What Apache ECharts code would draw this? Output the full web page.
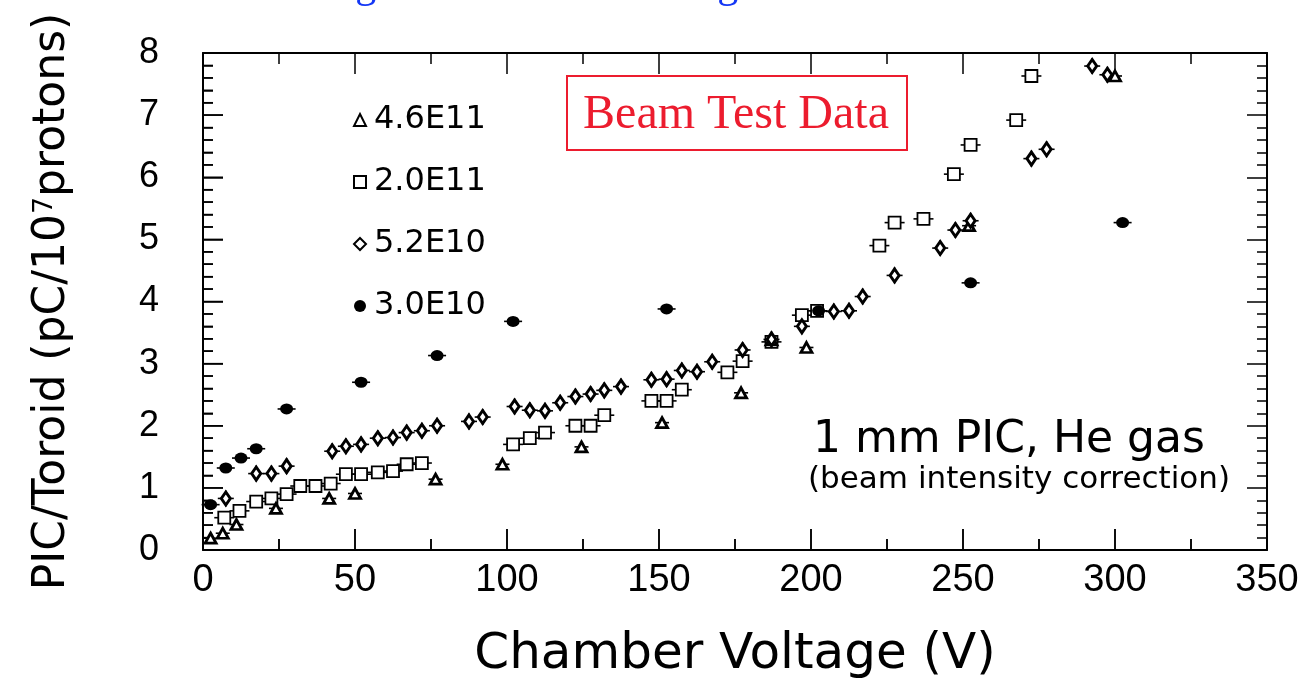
<!DOCTYPE html>
<html>
<head>
<meta charset="utf-8">
<title>PIC/Toroid vs Chamber Voltage</title>
<script src="https://cdn.jsdelivr.net/npm/echarts@6/dist/echarts.min.js"></script>
<style>
  html, body { margin: 0; padding: 0; background: #fff; }
  #chart { width: 1306px; height: 685px; }
</style>
</head>
<body>
<div id="chart"></div>
<script>
// Beam intensities (legend labels)
const seriesNames = ['4.6E11', '2.0E11', '5.2E10', '3.0E10'];

// 4.6E11 protons
const volt46 = [2.5, 6.5, 11, 24, 41.5, 50, 76.5, 98.5, 124.5, 151, 177, 187, 198.5, 252, 300];
const ratio46 = [0.19, 0.27, 0.41, 0.67, 0.83, 0.91, 1.14, 1.38, 1.66, 2.05, 2.53, 3.38, 3.26, 5.22, 7.63];

// 2.0E11 protons
const volt20 = [7, 12, 17.5, 22.5, 27.5, 32, 37, 42, 47, 52, 57.5, 62.5, 67, 72, 102, 107.5, 112.5, 122.5, 127.5, 132,
  147.5, 152.5, 157.5, 172.5, 177.5, 187, 197, 202, 222.5, 227.5, 237, 247, 252.5, 267.5, 272.5];
const ratio20 = [0.52, 0.63, 0.78, 0.83, 0.90, 1.03, 1.03, 1.07, 1.22, 1.22, 1.25, 1.27, 1.38, 1.40, 1.70, 1.80, 1.89, 2.00, 2.00, 2.17,
  2.40, 2.40, 2.58, 2.86, 3.04, 3.35, 3.78, 3.85, 4.90, 5.27, 5.33, 6.05, 6.52, 6.92, 7.63];

// 5.2E10 protons
const volt52 = [7.5, 17.5, 22.5, 27.5, 42.5, 47, 52, 57.5, 62.5, 67, 72, 77, 87.5, 92, 102.5, 107.5, 112.5, 117.5, 122.5, 127.5,
  132, 137.5, 147.5, 152.5, 157.5, 162.5, 167.5, 177.5, 187, 197, 207.5, 212.5, 217, 227.5, 242.5, 247.5, 252.5, 272.5, 277.5, 292.5, 297.5];
const ratio52 = [0.83, 1.23, 1.23, 1.35, 1.59, 1.67, 1.70, 1.80, 1.81, 1.89, 1.92, 2.00, 2.07, 2.14, 2.31, 2.25, 2.24, 2.37, 2.47, 2.51,
  2.57, 2.63, 2.74, 2.75, 2.89, 2.87, 3.03, 3.22, 3.39, 3.60, 3.84, 3.85, 4.08, 4.42, 4.86, 5.15, 5.30, 6.30, 6.45, 7.79, 7.65];

// 3.0E10 protons
const volt30 = [2.5, 7.5, 12.5, 17.5, 27.5, 52, 77, 102, 152.5, 202.5, 252.5, 302.5];
const ratio30 = [0.73, 1.32, 1.48, 1.63, 2.27, 2.70, 3.13, 3.68, 3.88, 3.85, 4.30, 5.27];

// Axis ticks
const xTicks = { min: 0, max: 350, step: 50, minorSplit: 2 };
const yTicks = { min: 0, max: 8, step: 1, minorSplit: 5 };

const pairs = (xs, ys) => xs.map((x, i) => [x, ys[i]]);

const FONT = "'Liberation Sans', sans-serif";
const WIDE_FONT = "'DejaVu Sans', sans-serif";

// Small error-bar style whiskers drawn around each point
function whiskers(name, data, hx, hy, z) {
  return {
    type: 'custom',
    name: name + '-bars',
    data: data,
    z: z,
    silent: true,
    renderItem: function (params, api) {
      const p = api.coord([api.value(0), api.value(1)]);
      const children = [{
        type: 'line',
        shape: { x1: p[0] - hx, y1: p[1], x2: p[0] + hx, y2: p[1] },
        style: { stroke: '#000', lineWidth: 1.6 }
      }];
      if (hy > 0) {
        children.push({
          type: 'line',
          shape: { x1: p[0], y1: p[1] - hy, x2: p[0], y2: p[1] + hy },
          style: { stroke: '#000', lineWidth: 1.6 }
        });
      }
      return { type: 'group', children: children };
    }
  };
}

// Tick positions along the bottom and left frame edges: [value, edge(0=bottom,1=left), major(1)/minor(0)]
function frameTickList(t, edge) {
  const list = [];
  const n = Math.round((t.max - t.min) / t.step) * t.minorSplit;
  for (let i = 0; i <= n; i++) {
    const v = t.min + (i * t.step) / t.minorSplit;
    list.push([v, edge, i % t.minorSplit === 0 ? 1 : 0]);
  }
  return list;
}
const bottomLeftTicks = frameTickList(xTicks, 0).concat(frameTickList(yTicks, 1));

const d46 = pairs(volt46, ratio46);
const d20 = pairs(volt20, ratio20);
const d52 = pairs(volt52, ratio52);
const d30 = pairs(volt30, ratio30);

const chart = echarts.init(document.getElementById('chart'), null, { renderer: 'canvas' });

// Plot frame axes
function frameAxis(ticks, position, majorLen, minorLen, extra) {
  return Object.assign({
    type: 'value',
    min: ticks.min, max: ticks.max, interval: ticks.step,
    position: position,
    axisLine: { show: true, onZero: false, lineStyle: { color: '#000', width: 2 } },
    axisTick: { show: true, inside: true, length: majorLen, lineStyle: { color: '#000', width: 1.5 } },
    minorTick: { show: true, splitNumber: ticks.minorSplit, length: minorLen, lineStyle: { color: '#000', width: 1.5 } },
    axisLabel: { show: false },
    splitLine: { show: false },
    minorSplitLine: { show: false }
  }, extra || {});
}

chart.setOption({
  animation: false,
  backgroundColor: '#fff',
  grid: { left: 203, right: 39, top: 53, bottom: 135 },
  xAxis: [
    frameAxis(xTicks, 'bottom', 21, 11, {
      name: 'Chamber Voltage (V)',
      nameLocation: 'middle',
      nameGap: 80,
      nameTextStyle: { fontFamily: WIDE_FONT, fontSize: 50, color: '#000' },
      axisLabel: { show: true, fontFamily: FONT, fontSize: 38, color: '#000', margin: 12 }
    }),
    frameAxis(xTicks, 'top', 21, 11)
  ],
  yAxis: [
    frameAxis(yTicks, 'left', 20, 10, {
      name: 'PIC/Toroid (pC/10{sup|7}protons)',
      nameLocation: 'middle',
      nameGap: 128,
      nameRotate: 90,
      nameTextStyle: {
        fontFamily: WIDE_FONT, fontSize: 44, color: '#000',
        rich: { sup: { fontFamily: WIDE_FONT, fontSize: 27, color: '#000', verticalAlign: 'top', padding: [0, 0, 15, 0] } }
      },
      axisLabel: { show: true, fontFamily: FONT, fontSize: 36, color: '#000', margin: 44 }
    }),
    frameAxis(yTicks, 'right', 20, 10)
  ],
  legend: {
    data: seriesNames,
    orient: 'vertical',
    left: 348,
    top: 99,
    itemGap: 30,
    itemWidth: 12,
    itemHeight: 12,
    textStyle: { fontFamily: WIDE_FONT, fontSize: 32, color: '#000', padding: [0, 0, 0, 3], lineHeight: 32 },
    selectedMode: false
  },
  graphic: [
    {
      type: 'text', x: 52, y: -35, silent: true,
      style: { text: 'PIC normalized signal at different voltages', fontFamily: "'Liberation Serif', serif", fontSize: 42, fill: '#1437f5' }
    },
    {
      type: 'rect', x: 567, y: 76, silent: true, z: 10,
      shape: { width: 340, height: 74 },
      style: { fill: '#fff', stroke: '#ec1c2e', lineWidth: 2 }
    },
    {
      type: 'text', x: 736, y: 115, silent: true, z: 11,
      style: { text: 'Beam Test Data', fontFamily: "'Liberation Serif', serif", fontSize: 48, fill: '#ec1c2e', align: 'center', verticalAlign: 'middle' }
    },
    {
      type: 'text', x: 813, y: 441, silent: true,
      style: { text: '1 mm PIC, He gas', fontFamily: WIDE_FONT, fontSize: 44, fill: '#000', verticalAlign: 'middle' }
    },
    {
      type: 'text', x: 808, y: 480, silent: true,
      style: { text: '(beam intensity correction)', fontFamily: WIDE_FONT, fontSize: 31, fill: '#000', verticalAlign: 'middle' }
    }
  ],
  series: [
    // inward ticks along the bottom and left edges, placed through the axis scales
    {
      type: 'custom',
      name: 'frame-ticks',
      data: bottomLeftTicks,
      silent: true,
      z: 3,
      clip: false,
      renderItem: function (params, api) {
        const v = api.value(0), edge = api.value(1), major = api.value(2);
        if (edge === 0) {
          const p = api.coord([v, yTicks.min]);
          const len = major ? 21 : 11;
          return { type: 'line', shape: { x1: p[0], y1: p[1], x2: p[0], y2: p[1] - len }, style: { stroke: '#000', lineWidth: 1.5 } };
        }
        const p = api.coord([xTicks.min, v]);
        const len = major ? 20 : 10;
        return { type: 'line', shape: { x1: p[0], y1: p[1], x2: p[0] + len, y2: p[1] }, style: { stroke: '#000', lineWidth: 1.5 } };
      }
    },
    whiskers('4.6E11', d46, 7, 0, 2),
    whiskers('2.0E11', d20, 10, 0, 2),
    whiskers('5.2E10', d52, 8, 8, 2),
    whiskers('3.0E10', d30, 9, 0, 2),
    {
      name: '4.6E11', type: 'scatter', data: d46, z: 5,
      symbol: 'triangle', symbolSize: [11, 10],
      itemStyle: { color: '#fff', borderColor: '#000', borderWidth: 2.8, opacity: 1 }
    },
    {
      name: '2.0E11', type: 'scatter', data: d20, z: 4,
      symbol: 'rect', symbolSize: 12,
      itemStyle: { color: '#fff', borderColor: '#000', borderWidth: 1.8, opacity: 1 }
    },
    {
      name: '5.2E10', type: 'scatter', data: d52, z: 6,
      symbol: 'diamond', symbolSize: [9, 13],
      itemStyle: { color: '#fff', borderColor: '#000', borderWidth: 3, opacity: 1 }
    },
    {
      name: '3.0E10', type: 'scatter', data: d30, z: 7,
      symbol: 'circle', symbolSize: [13, 11],
      itemStyle: { color: '#000', borderColor: '#000', borderWidth: 0, opacity: 1 }
    }
  ]
});
</script>
</body>
</html>
